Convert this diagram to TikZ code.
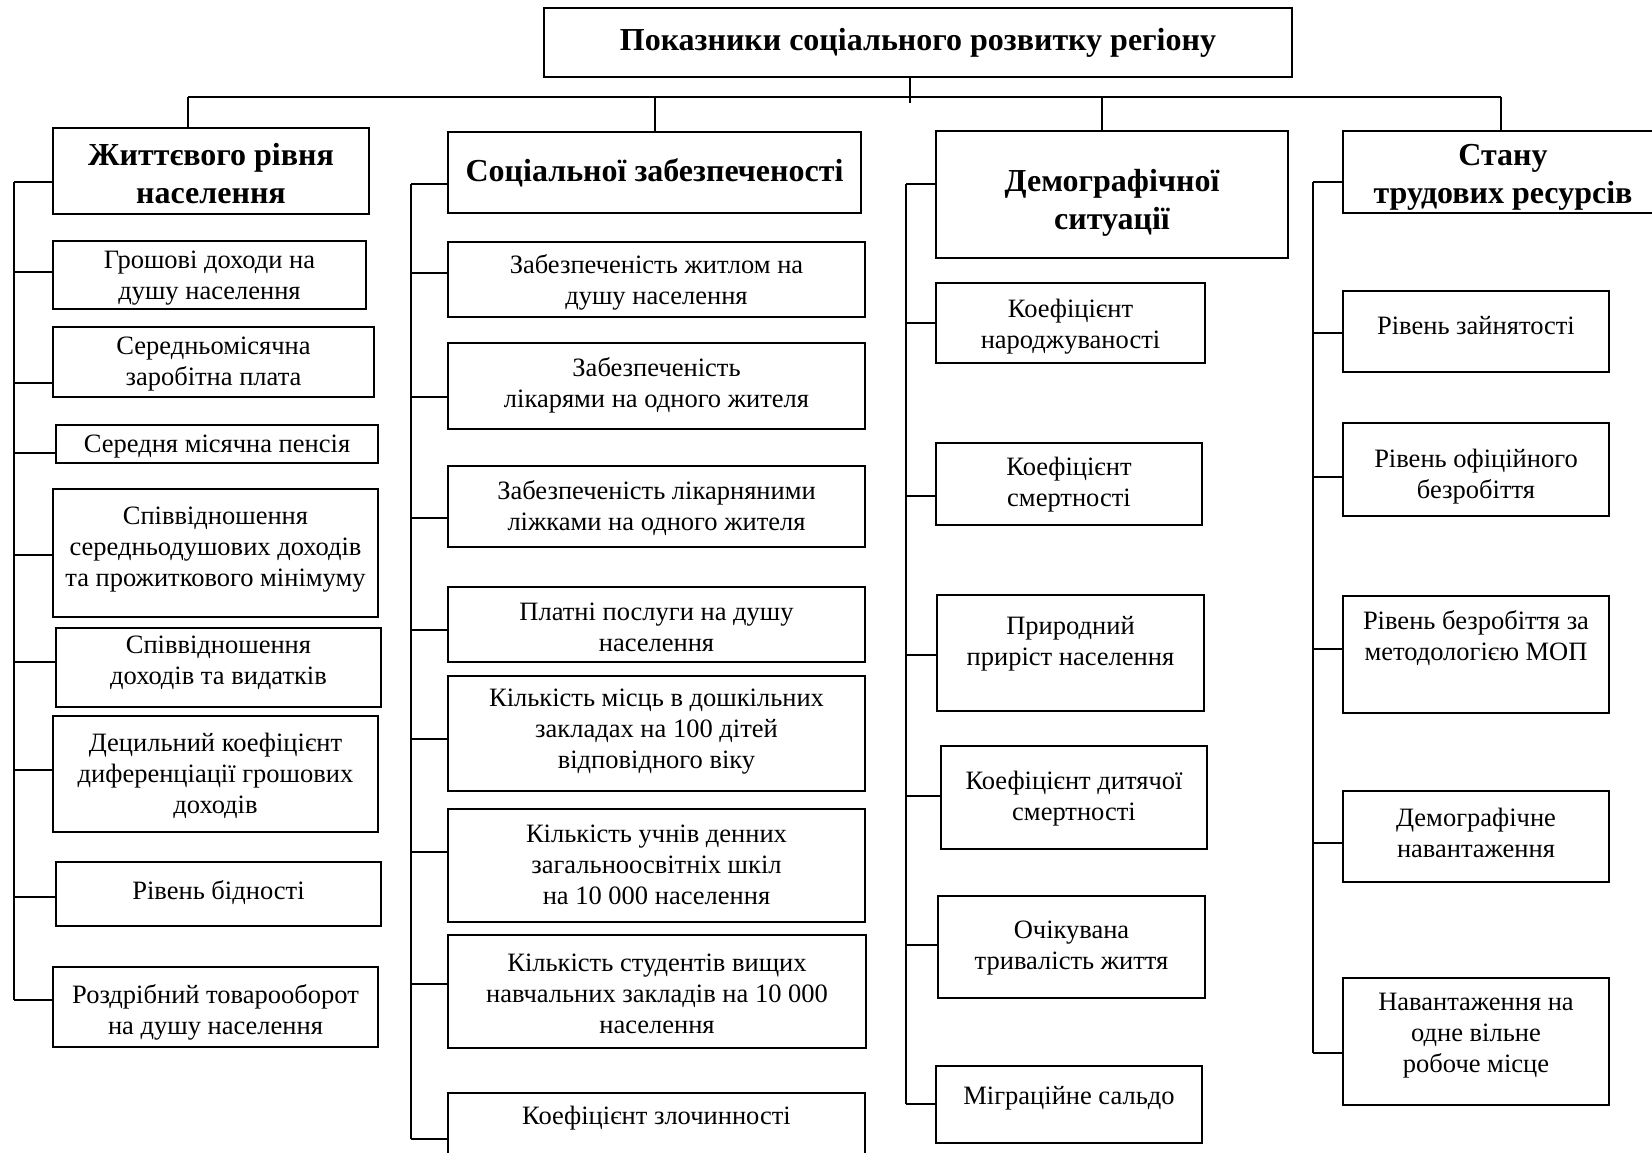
\documentclass[tikz,border=0pt]{standalone}
\usepackage{fontspec}
\setmainfont{Liberation Serif}
\begin{document}
\begin{tikzpicture}[x=1pt,y=-1pt,
  boxst/.style={draw,rectangle,line width=1.6pt,inner sep=0pt,outer sep=0pt},
  txtst/.style={align=center,inner sep=0pt,font=\fontsize{26.5}{31}\selectfont},
  hdst/.style={font=\fontsize{32}{38}\selectfont\bfseries},
  ttlst/.style={font=\fontsize{32}{36}\selectfont\bfseries},
  ln/.style={line width=1.6pt}]
\useasboundingbox (0,0) rectangle (1652,1152);
\clip (0,0) rectangle (1652,1152);
\newcommand{\bx}[8][]{%
  \node[boxst, minimum width={(#5)-(#3)}, minimum height={(#6)-(#4)}] (#2) at ({((#3)+(#5))/2},{((#4)+(#6))/2}) {};
  \node[txtst,#1] (#2-t) at ([yshift={-1pt*(#7)}]#2.center) {#8};}
\newcommand{\cn}[3]{%
  \coordinate (#1-c) at (#2,#3);
  \draw[ln] (#1-c) -- (#1-c -| #1.west);}

% title
\bx[ttlst]{title}{544}{8}{1292}{77}{0}{Показники соціального розвитку регіону}

% headers
\bx[hdst]{h1}{53}{128}{369}{214}{3}{Життєвого рівня\\населення}
\bx[hdst]{h2}{448}{132}{861}{213}{0}{Соціальної забезпеченості}
\bx[hdst]{h3}{936}{131}{1288}{258}{8}{Демографічної\\ситуації}
\bx[hdst]{h4}{1343}{131}{1663}{213}{5}{Стану\\трудових ресурсів}

% bus
\coordinate (stem) at (910,103);
\draw[ln] (title.south -| stem) -- (stem);
\coordinate (bus1) at (188,97);
\coordinate (bus2) at (655,97);
\coordinate (bus3) at (1102,97);
\coordinate (bus4) at (1501,97);
\draw[ln] (bus1) -- (bus4);
\draw[ln] (bus1) -- (bus1 |- h1.north);
\draw[ln] (bus2) -- (bus2 |- h2.north);
\draw[ln] (bus3) -- (bus3 |- h3.north);
\draw[ln] (bus4) -- (bus4 |- h4.north);

% column 1
\bx{a1}{53}{241}{366}{309}{3}{Грошові доходи на\\душу населення}
\bx{a2}{53}{327}{374}{397}{2}{Середньомісячна\\заробітна плата}
\bx{a3}{56}{425}{378}{463}{3}{Середня місячна пенсія}
\bx{a4}{53}{489}{378}{617}{-3}{Співвідношення\\середньодушових доходів\\та прожиткового мінімуму}
\bx{a5}{56}{628}{381}{707}{-5}{Співвідношення\\доходів та видатків}
\bx{a6}{53}{716}{378}{832}{2}{Децильний коефіцієнт\\диференціації грошових\\доходів}
\bx{a7}{56}{862}{381}{926}{-1}{Рівень бідності}
\bx{a8}{53}{967}{378}{1047}{5}{Роздрібний товарооборот\\на душу населення}
\cn{h1}{14}{182}
\cn{a1}{14}{272}
\cn{a2}{14}{383}
\cn{a3}{14}{453}
\cn{a4}{14}{555}
\cn{a5}{14}{662}
\cn{a6}{14}{770}
\cn{a7}{14}{897}
\cn{a8}{14}{1000}
\draw[ln] (h1-c) -- (a8-c);

% column 2
\bx{b1}{448}{242}{865}{317}{3}{Забезпеченість житлом на\\душу населення}
\bx{b2}{448}{343}{865}{429}{-1}{Забезпеченість\\лікарями на одного жителя}
\bx{b3}{448}{466}{865}{547}{2}{Забезпеченість лікарняними\\ліжками на одного жителя}
\bx{b4}{448}{587}{865}{662}{3}{Платні послуги на душу\\населення}
\bx{b5}{448}{676}{865}{791}{-2}{Кількість місць в дошкільних\\закладах на 100 дітей\\відповідного віку}
\bx{b6}{448}{809}{865}{922}{-1}{Кількість учнів денних\\загальноосвітніх шкіл\\на 10 000 населення}
\bx{b7}{448}{935}{866}{1048}{2}{Кількість студентів вищих\\навчальних закладів на 10 000\\населення}
\bx{b8}{448}{1093}{865}{1170}{-13.5}{Коефіцієнт злочинності}
\cn{h2}{411}{184}
\cn{b1}{411}{273}
\cn{b2}{411}{397}
\cn{b3}{411}{518}
\cn{b4}{411}{630}
\cn{b5}{411}{739}
\cn{b6}{411}{852}
\cn{b7}{411}{984}
\cn{b8}{411}{1139}
\draw[ln] (h2-c) -- (b8-c);

% column 3
\bx{c1}{936}{283}{1205}{363}{4}{Коефіцієнт\\народжуваності}
\bx{c2}{936}{443}{1202}{525}{1}{Коефіцієнт\\смертності}
\bx{c3}{937}{595}{1204}{711}{-9}{Природний\\приріст населення}
\bx{c4}{941}{746}{1207}{849}{1}{Коефіцієнт дитячої\\смертності}
\bx{c5}{938}{896}{1205}{998}{1}{Очікувана\\тривалість життя}
\bx{c6}{936}{1066}{1202}{1143}{-6}{Міграційне сальдо}
\cn{h3}{906}{184}
\cn{c1}{906}{323}
\cn{c2}{906}{496}
\cn{c3}{906}{655}
\cn{c4}{906}{796}
\cn{c5}{906}{945}
\cn{c6}{906}{1104}
\draw[ln] (h3-c) -- (c6-c);

% column 4
\bx{d1}{1343}{291}{1609}{372}{-6}{Рівень зайнятості}
\bx{d2}{1343}{423}{1609}{516}{7}{Рівень офіційного\\безробіття}
\bx{d3}{1343}{596}{1609}{713}{-16}{Рівень безробіття за\\методологією МОП}
\bx{d4}{1343}{791}{1609}{882}{-4}{Демографічне\\навантаження}
\bx{d5}{1343}{978}{1609}{1105}{-6}{Навантаження на\\одне вільне\\робоче місце}
\cn{h4}{1313}{182}
\cn{d1}{1313}{333}
\cn{d2}{1313}{477}
\cn{d3}{1313}{649}
\cn{d4}{1313}{843}
\cn{d5}{1313}{1053}
\draw[ln] (h4-c) -- (d5-c);
\end{tikzpicture}
\end{document}
